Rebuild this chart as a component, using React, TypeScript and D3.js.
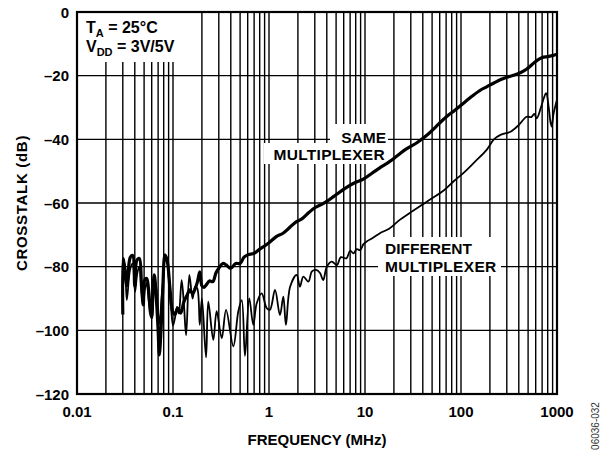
import React from "react";
import * as d3 from "d3";

const W = 605;
const H = 452;

const yTicks = [0, -20, -40, -60, -80, -100, -120];
const xTicks = [0.01, 0.1, 1, 10, 100, 1000];
const xTickLabels = ["0.01", "0.1", "1", "10", "100", "1000"];

// SAME MULTIPLEXER (thick)
const sameFreq = [0.03, 0.0302, 0.0315, 0.033, 0.0345, 0.036, 0.038, 0.04, 0.042, 0.0446, 0.047, 0.049, 0.051, 0.0532, 0.056, 0.058, 0.06, 0.062, 0.0639, 0.067, 0.07, 0.072, 0.075, 0.078, 0.0826, 0.0873, 0.093, 0.099, 0.105, 0.112, 0.12, 0.13, 0.14, 0.15, 0.16, 0.17, 0.18, 0.19, 0.2, 0.21, 0.225, 0.24, 0.26, 0.28, 0.3, 0.33, 0.36, 0.4, 0.45, 0.5, 0.55, 0.6, 0.7, 0.8, 0.9, 1.0, 1.2, 1.4, 1.6, 1.9, 2.2, 2.6, 3, 3.5, 4, 4.7, 5.5, 6.5, 8, 9.6, 12, 15, 18, 22, 27, 35, 45, 55, 70, 85, 100, 130, 160, 185, 220, 260, 300, 360, 420, 480, 550, 620, 700, 800, 900, 1000];
const sameDb = [-95, -77.5, -81, -86, -80, -77, -76.5, -86, -78, -77.4, -86, -92, -84, -83.7, -88, -94, -96, -86, -82.6, -90, -100, -107.7, -100, -88, -76.3, -78.4, -86.8, -94, -95, -93, -94.6, -91, -89, -87.3, -88.5, -87, -84.7, -81.6, -86, -86.5, -85.5, -84.5, -84.7, -82, -80.5, -79, -79.5, -80.5, -79, -79, -77, -76.3, -75.8, -74.5, -73.5, -72.5, -70.5, -69.5, -68, -66, -65, -63, -61.5, -60.5, -59.5, -58, -56.5, -55, -53.5, -52.5, -50.5, -48.5, -47, -45, -43, -41, -38.5, -36, -33, -31, -29.3, -26.5, -24.5, -23.5, -22.3, -21.2, -20.5, -19.8, -19, -18, -16.5, -15.2, -14.3, -14, -13.7, -13.3];

// DIFFERENT MULTIPLEXER (thin)
const diffFreq = [0.03, 0.0315, 0.033, 0.0357, 0.038, 0.0402, 0.0425, 0.0446, 0.047, 0.049, 0.051, 0.0532, 0.056, 0.06, 0.0625, 0.066, 0.069, 0.072, 0.076, 0.08, 0.0826, 0.086, 0.09, 0.095, 0.1, 0.105, 0.11, 0.115, 0.123, 0.13, 0.137, 0.148, 0.16, 0.17, 0.179, 0.19, 0.2, 0.221, 0.233, 0.263, 0.285, 0.322, 0.357, 0.425, 0.479, 0.52, 0.562, 0.623, 0.686, 0.745, 0.839, 0.946, 1.024, 1.155, 1.3, 1.41, 1.5, 1.66, 1.94, 2.1, 2.28, 2.57, 2.8, 3.1, 3.4, 3.67, 4, 4.5, 5.1, 5.6, 6.4, 7, 7.6, 8.2, 8.9, 9.6, 10.4, 12, 14.3, 18, 23, 29, 44, 67, 85, 105, 140, 185, 220, 258, 328, 400, 483, 540, 580, 614, 680, 730, 770, 820, 860, 881, 920, 1000];
const diffDb = [-82, -79, -90.5, -81, -79, -87.9, -82, -80, -88, -92, -87, -85, -91, -96.2, -89, -85, -92, -98, -90, -82, -77, -77, -83, -92, -98.5, -96, -92.6, -94.7, -84.2, -92, -101.5, -82.6, -90, -86.3, -86.8, -98.3, -90, -108.5, -91, -103, -94, -102.5, -93.6, -105, -94, -90.5, -108, -90, -98.3, -91.5, -88.4, -93, -93.5, -87.3, -95.2, -89.4, -98.3, -86.3, -82.6, -86.3, -83.1, -84.7, -81.5, -81, -82, -84.2, -80, -78.4, -79.5, -77, -77.4, -75, -75.8, -74.5, -74.8, -73, -72.1, -71, -69.5, -68, -65.3, -63.2, -59.6, -55.9, -53, -50.7, -47, -43.3, -40, -38.6, -37.6, -35.5, -32.9, -33, -32, -33.4, -30, -27, -25.5, -30, -35, -36, -32, -27.6];

const FONT = "Arial, 'Liberation Sans', Helvetica, sans-serif";

export default function App() {
  const left = 77, right = 557, top = 12, bottom = 394;
  const x = d3.scaleLog().domain([0.01, 1000]).range([left, right]);
  const y = d3.scaleLinear().domain([-120, 0]).range([bottom, top]);

  const gridX: number[] = [];
  for (let e = -2; e < 3; e++) {
    for (let k = 1; k <= 9; k++) gridX.push(k * Math.pow(10, e));
  }
  gridX.push(1000);

  const line = d3
    .line<[number, number]>()
    .x((d) => x(d[0]))
    .y((d) => y(d[1]))
    .curve(d3.curveCatmullRom.alpha(0.5));

  const samePts = sameFreq.map((f, i) => [f, sameDb[i]] as [number, number]);
  const diffPts = diffFreq.map((f, i) => [f, diffDb[i]] as [number, number]);

  return (
    <svg width={W} height={H} style={{ position: "absolute", left: 0, top: 0, background: "#fff" }} fontFamily={FONT}>
      <rect x={0} y={0} width={W} height={H} fill="#fff" />
      {/* grid */}
      {gridX.map((v, i) => (
        <line key={"gx" + i} x1={x(v)} x2={x(v)} y1={top} y2={bottom} stroke="#000" strokeWidth={1.4} />
      ))}
      {yTicks.map((v, i) => (
        <line key={"gy" + i} x1={left} x2={right} y1={y(v)} y2={y(v)} stroke="#000" strokeWidth={1.4} />
      ))}
      {/* label backgrounds */}
      <rect x={left + 1} y={top + 1} width={113} height={49} fill="#fff" />
      <rect x={330} y={124} width={58} height={19} fill="#fff" />
      <rect x={264} y={143} width={126} height={21} fill="#fff" />
      <rect x={378} y={237} width={123} height={39} fill="#fff" />

      {/* conditions text */}
      <text x={86} y={33} fontSize={16} fontWeight="bold">
        T<tspan fontSize={11} dy={4}>A</tspan>
        <tspan dy={-4}> = 25°C</tspan>
      </text>
      <text x={86} y={52} fontSize={16} fontWeight="bold">
        V<tspan fontSize={11} dy={4}>DD</tspan>
        <tspan dy={-4}> = 3V/5V</tspan>
      </text>

      {/* curve labels */}
      <text x={386} y={142.5} fontSize={15.5} fontWeight="bold" textAnchor="end">SAME</text>
      <text x={385} y={160} fontSize={15.5} fontWeight="bold" textAnchor="end" letterSpacing={0.3}>MULTIPLEXER</text>
      <text x={385} y={254} fontSize={15.5} fontWeight="bold">DIFFERENT</text>
      <text x={385} y={271.5} fontSize={15.5} fontWeight="bold" letterSpacing={0.3}>MULTIPLEXER</text>

      {/* curves */}
      <path d={line(diffPts) || ""} fill="none" stroke="#000" strokeWidth={1.8} strokeLinejoin="round" />
      <path d={line(samePts) || ""} fill="none" stroke="#000" strokeWidth={3.2} strokeLinejoin="round" />

      {/* frame */}
      <rect x={left} y={top} width={right - left} height={bottom - top} fill="none" stroke="#000" strokeWidth={2.2} />

      {/* y tick labels */}
      {yTicks.map((v, i) => (
        <text key={"yl" + i} x={69} y={y(v) + 5.5} fontSize={15} fontWeight="bold" textAnchor="end">
          {v === 0 ? "0" : "–" + Math.abs(v)}
        </text>
      ))}
      {/* x tick labels */}
      {xTicks.map((v, i) => (
        <text key={"xl" + i} x={x(v)} y={417} fontSize={15} fontWeight="bold" textAnchor="middle">
          {xTickLabels[i]}
        </text>
      ))}
      {/* axis titles */}
      <text x={(left + right) / 2} y={445} fontSize={15} fontWeight="bold" textAnchor="middle">FREQUENCY (MHz)</text>
      <text transform={`translate(27,${(top + bottom) / 2}) rotate(-90)`} fontSize={15} fontWeight="bold" textAnchor="middle" letterSpacing={0.7}>
        CROSSTALK (dB)
      </text>
      <text transform={`translate(599,426) rotate(-90)`} fontSize={10} fill="#333" textAnchor="middle">06036-032</text>
    </svg>
  );
}
